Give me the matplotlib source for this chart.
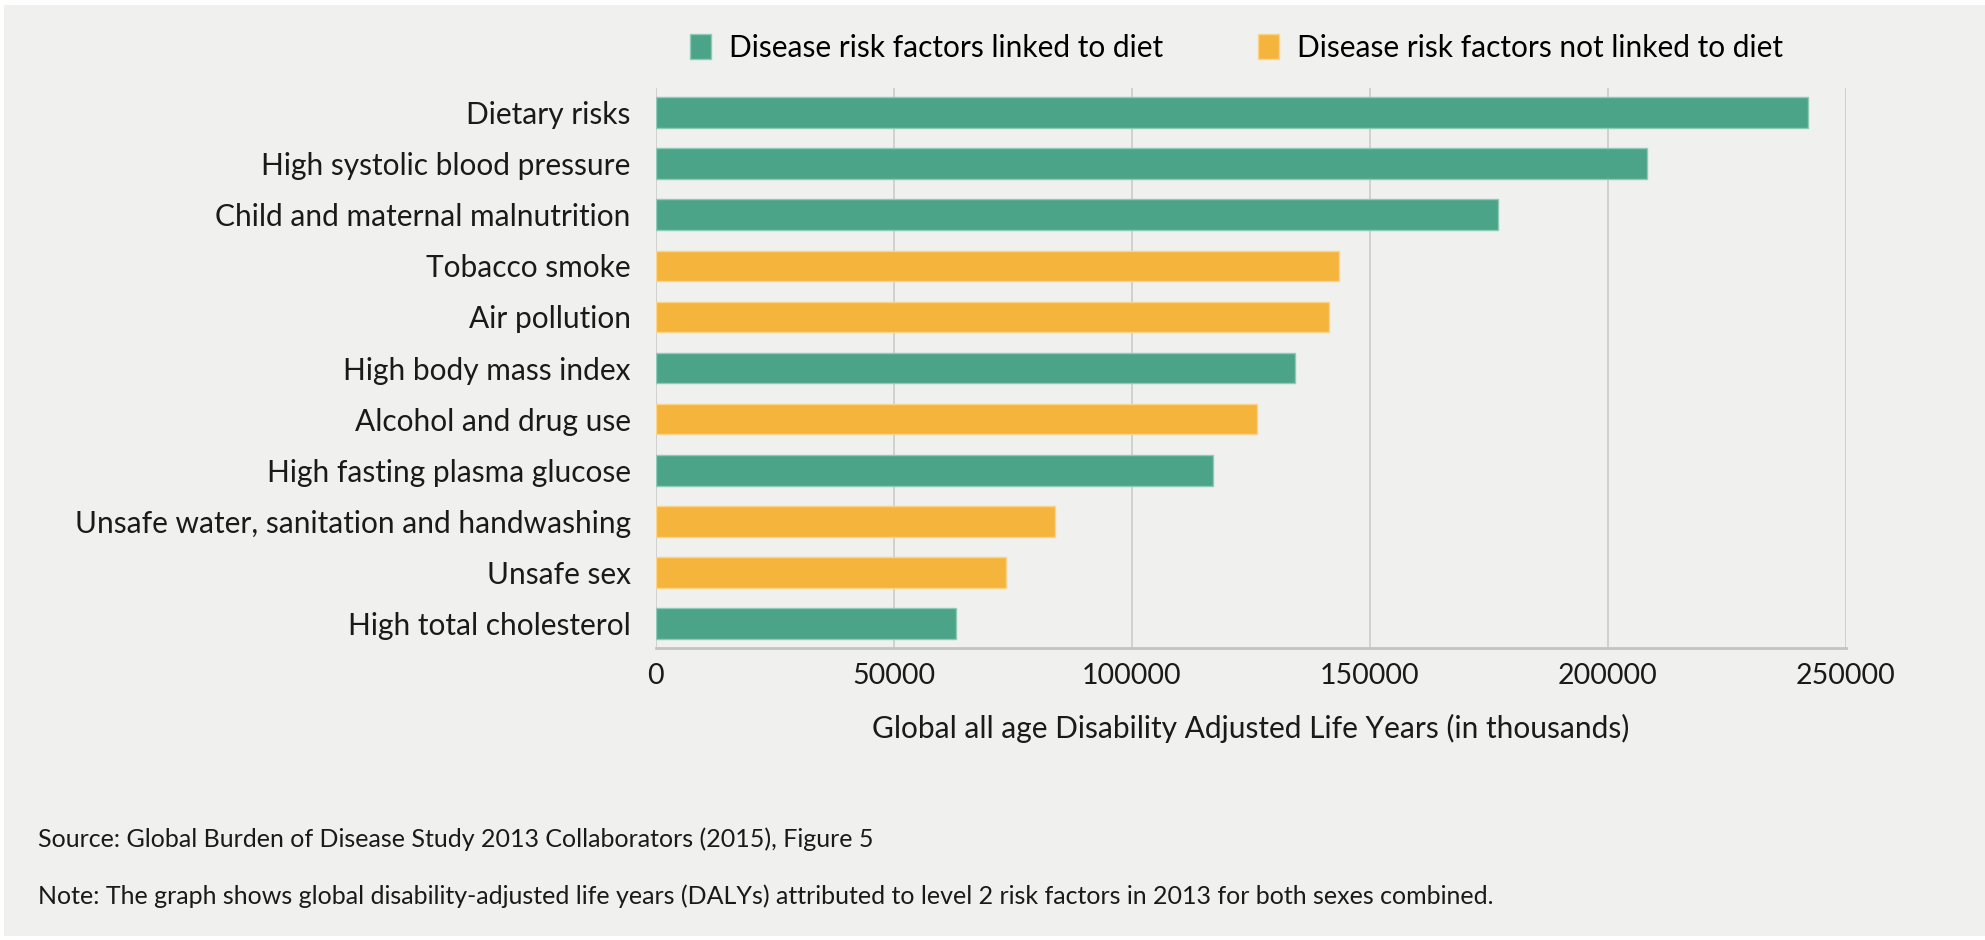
import matplotlib.pyplot as plt
from matplotlib.patches import Patch, Rectangle

# Data (DALYs, thousands)
factors = [
    "Dietary risks",
    "High systolic blood pressure",
    "Child and maternal malnutrition",
    "Tobacco smoke",
    "Air pollution",
    "High body mass index",
    "Alcohol and drug use",
    "High fasting plasma glucose",
    "Unsafe water, sanitation and handwashing",
    "Unsafe sex",
    "High total cholesterol",
]
dalys = [242000, 208300, 177000, 143500, 141500, 134300, 126300, 117100, 84000, 73500, 63000]
diet_linked = [True, True, True, False, False, True, False, True, False, False, True]
xticks = [0, 50000, 100000, 150000, 200000, 250000]

GREEN = '#4ba488'
ORANGE = '#f5b43c'
BG = '#f0f0ee'

plt.rcParams['font.family'] = ['Lato', 'DejaVu Sans']

fig = plt.figure(figsize=(19.85, 9.4), dpi=100, facecolor='white')
# grey panel behind everything, thin white border like the source
fig.patches.append(Rectangle((4 / 1985, 4 / 940), 1, 1 - 9 / 940,
                             transform=fig.transFigure, facecolor=BG,
                             edgecolor='none', zorder=-10))

ax = fig.add_axes([0.3303, 0.3106, 0.5995, 0.5957])
ax.set_facecolor(BG)

colors = [GREEN if d else ORANGE for d in diet_linked]
edges = ['#8fcab6' if d else '#f9d48a' for d in diet_linked]
ypos = list(range(len(factors)))
ax.barh(ypos, dalys, height=0.6, color=colors, edgecolor=edges, linewidth=1, zorder=3)

ax.set_yticks(ypos)
ax.set_yticklabels(factors, fontsize=21.5, color='#1a1a1a')
ax.set_ylim(len(factors) - 1 + 0.48, -0.48)

ax.set_xlim(0, 250000)
ax.set_xticks(xticks)
ax.set_xticklabels([str(v) for v in xticks], fontsize=20.5, color='#1a1a1a')
ax.tick_params(axis='both', length=0)
ax.tick_params(axis='y', pad=18)
ax.tick_params(axis='x', pad=11)
ax.grid(axis='x', color='#cbcbcb', linewidth=1.2, zorder=0)
ax.set_axisbelow(True)

for s in ['top', 'right', 'left']:
    ax.spines[s].set_visible(False)
ax.spines['bottom'].set_color('#c4c4c4')
ax.spines['bottom'].set_linewidth(2)

ax.set_xlabel('Global all age Disability Adjusted Life Years (in thousands)',
              fontsize=21.5, color='#1a1a1a', labelpad=18)

handles = [Patch(facecolor=GREEN, edgecolor='#8fcab6', label='Disease risk factors linked to diet'),
           Patch(facecolor=ORANGE, edgecolor='#f9d48a', label='Disease risk factors not linked to diet')]
fig.legend(handles=handles, loc='center', bbox_to_anchor=(0.623, 0.949), ncol=2,
           frameon=False, fontsize=21.5, handlelength=0.7, handleheight=0.9,
           handletextpad=0.6, columnspacing=3.2)

fig.text(38 / 1985, 1 - 839 / 940,
         'Source: Global Burden of Disease Study 2013 Collaborators (2015), Figure 5',
         fontsize=18, color='#1a1a1a', va='center')
fig.text(38 / 1985, 1 - 896 / 940,
         'Note: The graph shows global disability-adjusted life years (DALYs) attributed to level 2 risk factors in 2013 for both sexes combined.',
         fontsize=18, color='#1a1a1a', va='center')

fig.savefig('out.png', dpi=100, facecolor=fig.get_facecolor())
